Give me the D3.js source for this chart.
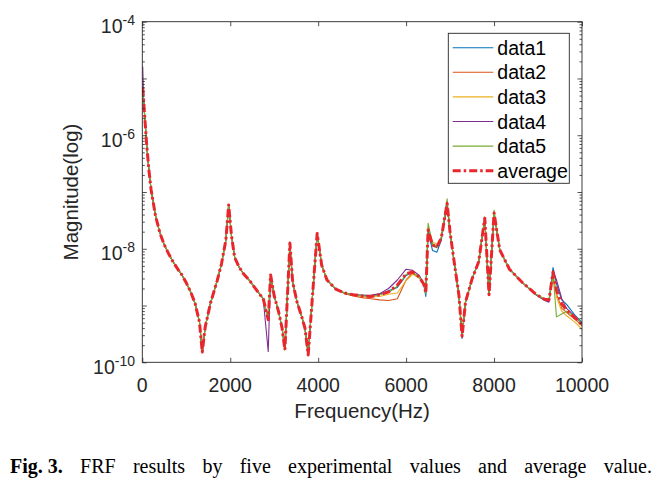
<!DOCTYPE html>
<html>
<head>
<meta charset="utf-8">
<script src="https://cdn.jsdelivr.net/npm/d3@7"></script>
<style>
  body { margin: 0; background: #fff; }
  svg { display: block; }
</style>
</head>
<body>
<svg id="chart" width="672" height="479"></svg>
<script>
// ---------- DATA (frequency in Hz, magnitude as log10 exponent) ----------
const freq = [10,30,60,100,150,200,300,400,500,600,700,800,900,1000,1100,1200,1300,1364,1430,1550,
  1700,1800,1900,1964,2030,2100,2200,2300,2450,2600,2750,2864,2918,3000,3100,3180,3243,3357,3420,3520,
  3620,3700,3773,3880,3977,4080,4200,4400,4600,4800,5000,5200,5400,5600,5800,6000,6150,6300,6400,6448,
  6500,6600,6700,6800,6932,7000,7080,7200,7273,7350,7500,7650,7789,7886,8000,8130,8350,8650,8950,9150,
  9250,9341,9420,9540,9650,9850,10000];

const data1 = [-5.16,-5.38,-5.73,-6.17,-6.61,-6.96,-7.42,-7.72,-7.93,-8.09,
  -8.23,-8.35,-8.46,-8.60,-8.76,-8.96,-9.29,-9.82,-9.38,-8.96,
  -8.57,-8.27,-7.85,-7.23,-7.78,-8.15,-8.32,-8.44,-8.57,-8.73,
  -8.88,-9.25,-8.46,-8.83,-9.11,-9.40,-9.78,-7.90,-8.59,-8.94,
  -9.18,-9.40,-9.87,-8.73,-7.73,-8.29,-8.55,-8.71,-8.78,-8.81,
  -8.82,-8.83,-8.80,-8.74,-8.68,-8.47,-8.42,-8.51,-8.63,-8.84,
  -7.70,-8.03,-8.06,-7.85,-7.21,-7.72,-8.17,-8.83,-9.58,-8.95,
  -8.53,-8.23,-7.46,-8.82,-7.38,-8.02,-8.36,-8.60,-8.80,-8.89,
  -8.91,-8.33,-8.62,-8.90,-8.98,-9.18,-9.30];

const data2 = [-5.18,-5.38,-5.73,-6.17,-6.61,-6.96,-7.42,-7.72,-7.93,-8.09,
  -8.23,-8.35,-8.46,-8.60,-8.76,-8.96,-9.29,-9.82,-9.38,-8.96,
  -8.57,-8.27,-7.85,-7.23,-7.78,-8.15,-8.32,-8.44,-8.57,-8.73,
  -8.88,-9.25,-8.46,-8.83,-9.11,-9.40,-9.78,-7.90,-8.59,-8.94,
  -9.18,-9.40,-9.87,-8.73,-7.73,-8.29,-8.55,-8.71,-8.79,-8.83,
  -8.86,-8.88,-8.90,-8.91,-8.88,-8.55,-8.42,-8.50,-8.62,-8.77,
  -7.68,-7.95,-7.98,-7.81,-7.22,-7.71,-8.16,-8.81,-9.53,-8.94,
  -8.53,-8.23,-7.46,-8.81,-7.37,-8.02,-8.36,-8.60,-8.80,-8.89,
  -8.91,-8.45,-8.80,-9.05,-9.12,-9.25,-9.36];

const data3 = [-5.16,-5.38,-5.73,-6.17,-6.61,-6.96,-7.42,-7.72,-7.93,-8.09,
  -8.23,-8.35,-8.46,-8.60,-8.76,-8.96,-9.29,-9.82,-9.38,-8.96,
  -8.57,-8.27,-7.85,-7.23,-7.78,-8.15,-8.32,-8.44,-8.57,-8.73,
  -8.88,-9.25,-8.46,-8.83,-9.11,-9.40,-9.78,-7.90,-8.59,-8.94,
  -9.18,-9.40,-9.87,-8.73,-7.73,-8.29,-8.55,-8.71,-8.78,-8.82,
  -8.84,-8.85,-8.84,-8.80,-8.78,-8.56,-8.45,-8.52,-8.62,-8.76,
  -7.62,-7.88,-7.92,-7.80,-7.20,-7.71,-8.16,-8.80,-9.52,-8.93,
  -8.53,-8.23,-7.46,-8.80,-7.37,-8.02,-8.36,-8.60,-8.80,-8.89,
  -8.92,-8.42,-8.85,-9.10,-9.18,-9.30,-9.42];

const data4 = [-4.79,-5.38,-5.73,-6.17,-6.61,-6.96,-7.42,-7.72,-7.93,-8.09,
  -8.23,-8.35,-8.46,-8.60,-8.76,-8.96,-9.29,-9.82,-9.38,-8.96,
  -8.57,-8.27,-7.85,-7.23,-7.78,-8.15,-8.32,-8.44,-8.57,-8.73,
  -8.88,-9.81,-8.46,-8.83,-9.11,-9.40,-9.78,-7.90,-8.59,-8.94,
  -9.18,-9.40,-9.87,-8.73,-7.73,-8.29,-8.55,-8.71,-8.78,-8.81,
  -8.82,-8.82,-8.79,-8.70,-8.55,-8.36,-8.38,-8.47,-8.61,-8.78,
  -7.67,-7.93,-7.97,-7.81,-7.20,-7.71,-8.16,-8.81,-9.54,-8.94,
  -8.53,-8.23,-7.46,-8.81,-7.37,-8.02,-8.36,-8.60,-8.81,-8.91,
  -8.94,-8.38,-8.55,-8.88,-9.05,-9.20,-9.33];

const data5 = [-5.16,-5.38,-5.73,-6.17,-6.61,-6.96,-7.42,-7.72,-7.93,-8.09,
  -8.23,-8.35,-8.46,-8.60,-8.76,-8.96,-9.29,-9.82,-9.38,-8.96,
  -8.57,-8.27,-7.85,-7.23,-7.78,-8.15,-8.32,-8.44,-8.57,-8.73,
  -8.88,-9.25,-8.46,-8.83,-9.11,-9.40,-9.78,-7.90,-8.59,-8.94,
  -9.18,-9.40,-9.87,-8.73,-7.73,-8.29,-8.55,-8.71,-8.78,-8.81,
  -8.83,-8.84,-8.81,-8.77,-8.66,-8.45,-8.42,-8.50,-8.62,-8.79,
  -7.55,-7.92,-7.96,-7.80,-7.12,-7.71,-8.16,-8.81,-9.54,-8.94,
  -8.53,-8.23,-7.46,-8.81,-7.32,-8.02,-8.36,-8.60,-8.80,-8.89,
  -8.90,-8.44,-9.20,-9.15,-9.10,-9.20,-9.32];

const average = [-5.16,-5.38,-5.73,-6.17,-6.61,-6.96,-7.42,-7.72,-7.93,-8.09,
  -8.23,-8.35,-8.46,-8.60,-8.76,-8.96,-9.29,-9.82,-9.38,-8.96,
  -8.57,-8.27,-7.85,-7.23,-7.78,-8.15,-8.32,-8.44,-8.57,-8.73,
  -8.88,-9.25,-8.46,-8.83,-9.11,-9.40,-9.78,-7.90,-8.59,-8.94,
  -9.18,-9.40,-9.87,-8.73,-7.73,-8.29,-8.55,-8.71,-8.78,-8.81,
  -8.83,-8.84,-8.81,-8.76,-8.64,-8.44,-8.41,-8.50,-8.62,-8.78,
  -7.67,-7.93,-7.97,-7.81,-7.20,-7.71,-8.16,-8.81,-9.54,-8.94,
  -8.53,-8.23,-7.46,-8.81,-7.37,-8.02,-8.36,-8.60,-8.80,-8.89,
  -8.90,-8.41,-8.73,-8.97,-9.08,-9.22,-9.34];

const seriesNames = ["data1","data2","data3","data4","data5","average"];
const seriesColors = ["#0072BD","#D95319","#EDB120","#7E2F8E","#77AC30","#E8262B"];
const xTicks = [0,2000,4000,6000,8000,10000];
const yTickExps = [-4,-6,-8,-10];
const xLabel = "Frequency(Hz)";
const yLabel = "Magnitude(log)";
const captionBold = "Fig. 3.";
const captionWords = ["FRF","results","by","five","experimental","values","and","average","value."];

// ---------- LAYOUT ----------
const L = 142.3, R = 582, T = 21.7, B = 362.3;
const axisColor = "#262626";
const svg = d3.select("#chart");

const x = d3.scaleLinear().domain([0, 10000]).range([L, R]);
const y = d3.scaleLog().domain([1e-10, 1e-4]).range([B, T]);

svg.append("defs").append("clipPath").attr("id","plotclip")
  .append("rect").attr("x", L).attr("y", T).attr("width", R - L).attr("height", B - T);

const allSeries = [data1, data2, data3, data4, data5, average];
const line = d3.line().x(d => x(d[0])).y(d => y(Math.pow(10, d[1])));
const gLines = svg.append("g").attr("clip-path", "url(#plotclip)");
allSeries.forEach((s, i) => {
  const pts = freq.map((f, k) => [f, s[k]]);
  const p = gLines.append("path").datum(pts)
    .attr("d", line)
    .attr("fill", "none")
    .attr("stroke", seriesColors[i])
    .attr("stroke-linejoin", "round");
  if (i === 5) {
    p.attr("stroke-width", 3).attr("stroke-dasharray", "8,3,2.5,3");
  } else {
    p.attr("stroke-width", 1.1);
  }
});

// ---------- AXES ----------
const styleAxis = g => {
  g.select(".domain").remove();
  g.selectAll(".tick line").attr("stroke", axisColor).attr("stroke-width", 0.8);
};
svg.append("g").attr("transform", `translate(0,${B})`)
  .call(d3.axisBottom(x).tickValues(xTicks).tickSizeInner(-4.5).tickSizeOuter(0).tickFormat(""))
  .call(styleAxis);
svg.append("g").attr("transform", `translate(0,${T})`)
  .call(d3.axisTop(x).tickValues(xTicks).tickSizeInner(-4.5).tickSizeOuter(0).tickFormat(""))
  .call(styleAxis);

const majors = d3.range(-10, -3).map(e => Math.pow(10, e));
const minors = [];
for (let e = -10; e < -4; e++) for (let m = 2; m <= 9; m++) minors.push(m * Math.pow(10, e));
[[L, d3.axisLeft], [R, d3.axisRight]].forEach(([px, ax]) => {
  svg.append("g").attr("transform", `translate(${px},0)`)
    .call(ax(y).tickValues(majors).tickSizeInner(-4.5).tickSizeOuter(0).tickFormat(""))
    .call(styleAxis);
  svg.append("g").attr("transform", `translate(${px},0)`)
    .call(ax(y).tickValues(minors).tickSizeInner(-2.5).tickSizeOuter(0).tickFormat(""))
    .call(styleAxis);
});

svg.append("rect").attr("x", L).attr("y", T).attr("width", R - L).attr("height", B - T)
  .attr("fill", "none").attr("stroke", axisColor).attr("stroke-width", 0.9);

const sans = "Arial, 'Liberation Sans', Helvetica, sans-serif";

svg.append("g").selectAll("text").data(xTicks).join("text")
  .attr("x", d => x(d)).attr("y", B + 29.5)
  .attr("text-anchor", "middle")
  .attr("font-family", sans).attr("font-size", 19.5).attr("fill", axisColor)
  .text(d => d);

const yl = svg.append("g").selectAll("text").data(yTickExps).join("text")
  .attr("x", 135).attr("y", d => y(Math.pow(10, d)) + 11.5)
  .attr("text-anchor", "end")
  .attr("font-family", sans).attr("fill", axisColor);
yl.append("tspan").attr("font-size", 19.5).text("10");
yl.append("tspan").attr("font-size", 14).attr("dy", -8).text(d => "-" + Math.abs(d));

svg.append("text").attr("x", (L + R) / 2).attr("y", 418)
  .attr("text-anchor", "middle").attr("font-family", sans).attr("font-size", 20.5)
  .attr("fill", axisColor).text(xLabel);
svg.append("text")
  .attr("transform", `translate(78,${(T + B) / 2}) rotate(-90)`)
  .attr("text-anchor", "middle").attr("font-family", sans).attr("font-size", 20.5)
  .attr("fill", axisColor).text(yLabel);

// ---------- LEGEND ----------
const lg = svg.append("g");
lg.append("rect").attr("x", 448.3).attr("y", 33.3).attr("width", 121).attr("height", 150)
  .attr("fill", "#fff").attr("stroke", axisColor).attr("stroke-width", 0.9);
seriesNames.forEach((n, i) => {
  const yy = 47.7 + 24.6 * i;
  const ln = lg.append("line").attr("x1", 452.7).attr("x2", 493.3).attr("y1", yy).attr("y2", yy)
    .attr("stroke", seriesColors[i]);
  if (i === 5) ln.attr("stroke-width", 3).attr("stroke-dasharray", "8,3,2.5,3");
  else ln.attr("stroke-width", 1.1);
  lg.append("text").attr("x", 497.3).attr("y", yy + 7)
    .attr("font-family", sans).attr("font-size", 19.5).attr("fill", "#000").text(n);
});

// ---------- CAPTION ----------
const serif = "'Times New Roman', 'Liberation Serif', Times, serif";
const capY = 472.5, capL = 10, capR = 652;
const cap = svg.append("g").attr("font-family", serif).attr("font-size", 20).attr("fill", "#000");
const bold = cap.append("text").attr("x", capL).attr("y", capY).attr("font-weight", "bold").text(captionBold);
const wNodes = captionWords.map(w => cap.append("text").attr("y", capY).text(w));
const bw = bold.node().getComputedTextLength();
const widths = wNodes.map(n => n.node().getComputedTextLength());
const total = bw + d3.sum(widths);
const gap = (capR - capL - total) / captionWords.length;
let cx = capL + bw + gap;
wNodes.forEach((n, i) => { n.attr("x", cx); cx += widths[i] + gap; });
</script>
</body>
</html>
